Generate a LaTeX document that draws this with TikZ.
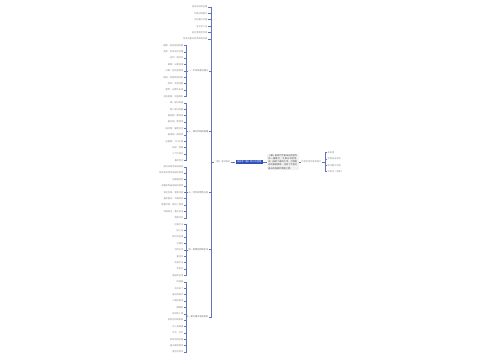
\documentclass[tikz,border=0pt]{standalone}
\usepackage{fontspec}
\newfontfamily\cjk{Noto Sans CJK SC}
\XeTeXlinebreaklocale "zh"
\XeTeXlinebreakskip = 0pt plus 1pt
\usetikzlibrary{positioning}
\definecolor{rootblue}{HTML}{2F4FBF}
\definecolor{linkblue}{HTML}{6475BC}
\definecolor{textgray}{HTML}{8A8A8A}
\newcommand{\mapfont}{\cjk\fontsize{2.2}{3.1}\selectfont}
\tikzset{
    leaf/.style = {anchor=east, inner sep=0.5pt, text=textgray, font=\mapfont},
    branch/.style = {leaf, text=black!60},
    rootbox/.style = {fill=rootblue, text=white, inner xsep=1.5pt,
        inner ysep=1.2pt, font=\mapfont},
    note/.style = {fill=black!5, text=black!70, text width=29pt,
        align=left, inner sep=1.2pt, font=\mapfont},
    link/.style = {draw=linkblue, line width=0.45pt},
    trunk/.style = {draw=linkblue, line width=0.7pt}
}
\begin{document}
\begin{tikzpicture}[x=1pt,y=-1pt]
        \useasboundingbox (0,0) rectangle (500,360);
        \coordinate (hub) at (211,162);
        % centre: label, root, note, author
        \node [leaf, anchor=west] (lbl) at (214,162) {《春》课文解析};
        \node [rootbox, right=4.5pt of lbl] (root) {朱自清《春》知识点梳理};
        \node [note, right=4pt of root] (note) {《春》是现代作家朱自清创作的一篇散文。文章以诗的笔调，描绘了春回大地、万物复苏的美丽景象，抒发了作者对春天的喜爱和赞美之情。};
        \node [leaf, anchor=west, right=2pt of note] (info) {作者及创作背景简介};
        \coordinate (info-out) at (325,162);
        \draw [trunk] (hub) -- (lbl.west);
        \draw [link] (lbl) -- (root);
        \draw [link] (root) -- (note);
        \draw [link] (note) -- (info);
        \draw [link] (info.east) -- (info-out);
        \foreach \txt [count=\i] in {朱自清,字佩弦号秋实,现代散文作家,代表作《背影》} {
            \node [leaf, anchor=west] (c\i) at (327,{162+(\i-2.5)*6.4}) {\txt};
            \draw [link] (info-out) |- (c\i.west);
        }
        % top leaves
        \foreach \txt [count=\i from 0] in {选自朱自清全集,写景抒情散文,以盼春为开端,全文共十段,语言清新而优美,抒发对春天的赞美和热爱} {
            \node [leaf] (t\i) at (208,{7+\i*6.39}) {\txt};
            \draw [trunk] (t\i.east) -| (hub);
        }
        % group A
        \node [branch] (ga) at (209,70.9) {一、字词读音与释义};
        \coordinate (ga-in) at (186,70.9);
        \foreach \txt [count=\i from 6] in {酝酿：原指造酒发酵,卖弄：有意显示炫耀,应和：相呼应,黄晕：光晕昏黄,抖擞：振作起精神,朗润：明朗而润泽的,嘹亮：声音清脆,静默：安静不出声,花枝招展：形容美好} {
            \node [leaf] (a\i) at (184,{7+\i*6.39}) {\txt};
            \draw [link] (a\i.east) -| (ga-in);
        }
        \draw [link] (ga-in) -- (ga.west);
        \draw [trunk] (ga.east) -| (hub);
        % group B
        \node [branch] (gb) at (209,131.6) {二、课文的结构梳理};
        \coordinate (gb-in) at (186,131.6);
        \foreach \txt [count=\i from 15] in {第一部分盼春,第二部分绘春,春草图：嫩而绿,春花图：繁而艳,春风图：暖而芬芳,春雨图：细而密,迎春图：人们忙碌,结尾：赞春,三个比喻句,春的特点} {
            \node [leaf] (b\i) at (184,{7+\i*6.39}) {\txt};
            \draw [link] (b\i.east) -| (gb-in);
        }
        \draw [link] (gb-in) -- (gb.west);
        \draw [trunk] (gb.east) -| (hub);
        % group C
        \node [branch] (gc) at (209,192.3) {三、写作的特色分析};
        \coordinate (gc-in) at (186,192.3);
        \foreach \txt [count=\i from 25] in {按时间顺序安排结构,调动多种感官来描写景物,动静相结合,由整体到局部描写景物,语言优美，富有诗意,善用叠词，节奏明快,借景抒情，寄托了情感,详略得当，重点突出,首尾呼应} {
            \node [leaf] (c\i) at (184,{7+\i*6.39}) {\txt};
            \draw [link] (c\i.east) -| (gc-in);
        }
        \draw [link] (gc-in) -- (gc.west);
        \draw [trunk] (gc.east) -| (hub);
        % group D
        \node [branch] (gd) at (209,249.8) {四、常用的修辞手法};
        \coordinate (gd-in) at (186,249.8);
        \foreach \txt [count=\i from 34] in {比喻手法,拟人句,排比的运用,对偶句,引用古诗,叠词句,反复手法,夸张句,通感的运用} {
            \node [leaf] (d\i) at (184,{7+\i*6.39}) {\txt};
            \draw [link] (d\i.east) -| (gd-in);
        }
        \draw [link] (gd-in) -- (gd.west);
        \draw [trunk] (gd.east) -| (hub);
        % group E
        \node [branch] (ge) at (209,316.9) {五、课文重点语句赏析};
        \coordinate (ge-in) at (186,316.9);
        \foreach \txt [count=\i from 43] in {盼望着,东风来了,春天的脚步,小草偷偷地,嫩嫩的,绿绿的小草,桃树杏树和梨树,鸟儿将窠巢,牛毛、花针,密密地斜织着,春天像刚落地,健壮的青年} {
            \node [leaf] (e\i) at (184,{7+\i*6.39}) {\txt};
            \draw [link] (e\i.east) -| (ge-in);
        }
        \draw [link] (ge-in) -- (ge.west);
        \draw [trunk] (ge.east) -| (hub);
\end{tikzpicture}
\end{document}
